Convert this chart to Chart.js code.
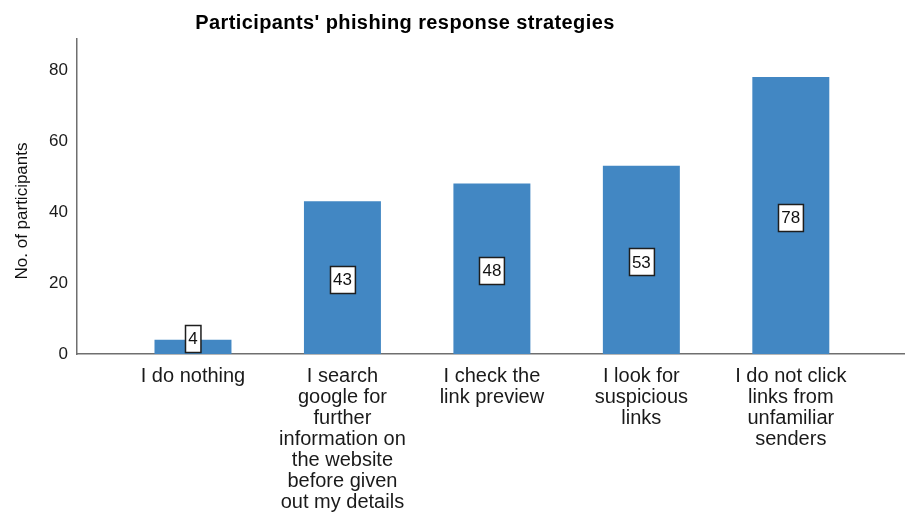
<!DOCTYPE html>
<html>
<head>
<meta charset="utf-8">
<script src="https://cdn.jsdelivr.net/npm/chart.js@4.4.1/dist/chart.umd.min.js"></script>
<style>
  html, body { margin: 0; padding: 0; background: #fff; }
  #wrap { width: 905px; height: 515px; }
</style>
</head>
<body>
<div id="wrap"><canvas id="myChart" width="905" height="515"></canvas></div>
<script>
const chartTitle = "Participants' phishing response strategies";
const yTitle = 'No. of participants';
const categories = [
  ['I do nothing'],
  ['I search', 'google for', 'further', 'information on', 'the website', 'before given', 'out my details'],
  ['I check the', 'link preview'],
  ['I look for', 'suspicious', 'links'],
  ['I do not click', 'links from', 'unfamiliar', 'senders'],
];
const counts = [4, 43, 48, 53, 78];
const yTicks = [0, 20, 40, 60, 80];

const FONT = '"Liberation Sans", Arial, sans-serif';
const BAR_BLUE = '#4287c3';
const AXIS_GREY = '#6f6f6f';

const barLabels = {
  id: 'barLabels',
  afterDatasetsDraw(chart) {
    const { ctx } = chart;
    const meta = chart.getDatasetMeta(0);
    ctx.save();
    ctx.font = '17px ' + FONT;
    ctx.textAlign = 'center';
    ctx.textBaseline = 'middle';
    meta.data.forEach((bar, i) => {
      const text = String(counts[i]);
      const w = ctx.measureText(text).width + 6;
      const h = 27;
      let cy = (bar.y + bar.base) / 2 + 2;
      if (cy + h / 2 > bar.base - 2) cy = bar.base - 2 - h / 2;
      const x0 = Math.round(bar.x - w / 2) + 0.5;
      const y0 = Math.round(cy - h / 2) + 0.5;
      ctx.fillStyle = '#fff';
      ctx.fillRect(x0, y0, w, h);
      ctx.strokeStyle = '#1e1e1e';
      ctx.lineWidth = 1.5;
      ctx.strokeRect(x0, y0, w, h);
      ctx.fillStyle = '#111';
      ctx.fillText(text, bar.x, cy + 1);
    });
    ctx.restore();
  },
};

const titles = {
  id: 'titles',
  afterDraw(chart) {
    const { ctx } = chart;
    ctx.save();
    ctx.fillStyle = '#000';
    ctx.font = 'bold 20px ' + FONT;
    ctx.textAlign = 'center';
    ctx.textBaseline = 'alphabetic';
    ctx.letterSpacing = '0.4px';
    ctx.fillText(chartTitle, 405, 29);
    ctx.letterSpacing = '0px';
    ctx.font = '17px ' + FONT;
    ctx.fillStyle = '#111';
    ctx.translate(27, 211);
    ctx.rotate(-Math.PI / 2);
    ctx.fillText(yTitle, 0, 0);
    ctx.restore();
  },
};

const ctx = document.getElementById('myChart').getContext('2d');
const chart = new Chart(ctx, {
  type: 'bar',
  data: {
    datasets: [{
      data: counts.map((v, i) => ({ x: i + 1, y: v })),
      backgroundColor: BAR_BLUE,
      borderWidth: 0,
      barPercentage: 0.515,
      categoryPercentage: 1,
    }],
  },
  options: {
    responsive: false,
    animation: false,
    layout: { padding: { top: 39, right: 0, left: 0, bottom: 0 } },
    plugins: {
      legend: { display: false },
      tooltip: { enabled: false },
    },
    scales: {
      x: {
        type: 'linear',
        offset: false,
        min: 0.224,
        max: 5.764,
        afterBuildTicks: (scale) => {
          scale.ticks = categories.map((_, i) => ({ value: i + 1 }));
        },
        afterFit: (scale) => { scale.height = 161; },
        grid: { display: false, drawTicks: false, offset: false },
        border: { display: true, color: AXIS_GREY, width: 1.5 },
        ticks: {
          autoSkip: false,
          maxRotation: 0,
          padding: 12,
          color: '#1a1a1a',
          font: { family: FONT, size: 20, lineHeight: 1.05 },
          callback: (value) => categories[Math.round(value) - 1] ?? '',
        },
      },
      y: {
        min: 0,
        max: 88.7,
        afterBuildTicks: (scale) => {
          scale.ticks = yTicks.map((v) => ({ value: v }));
        },
        afterFit: (scale) => { scale.width = 77; },
        grid: { display: false, drawTicks: false },
        border: { display: true, color: AXIS_GREY, width: 1.5 },
        ticks: {
          padding: 9,
          color: '#1a1a1a',
          font: { family: FONT, size: 17 },
        },
      },
    },
  },
  plugins: [barLabels, titles],
});
</script>
</body>
</html>
